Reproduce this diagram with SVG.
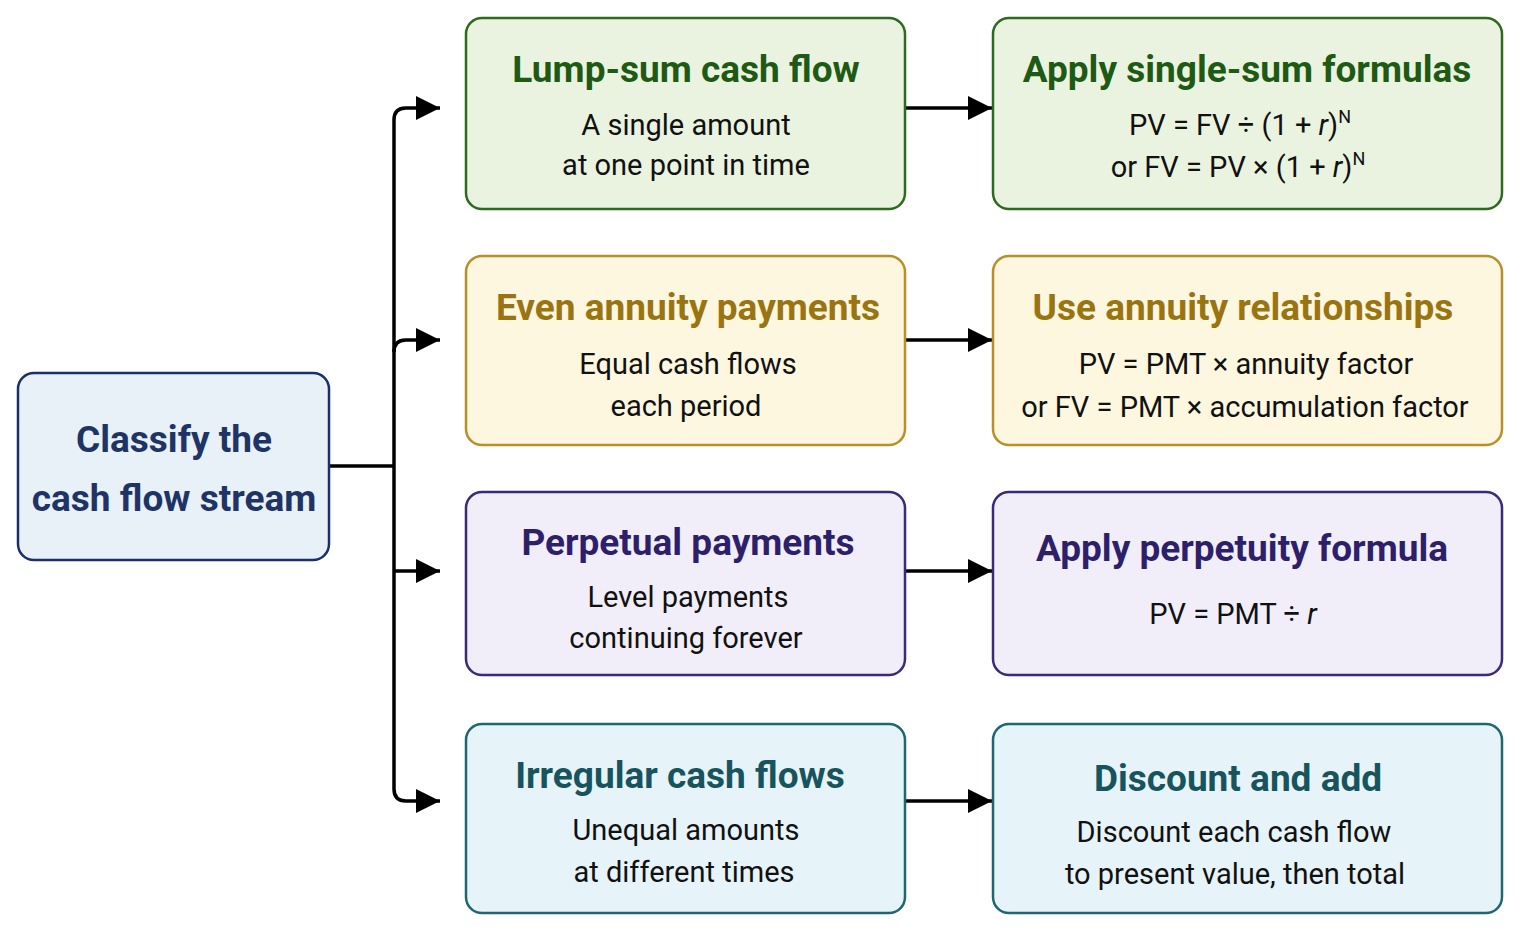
<svg xmlns="http://www.w3.org/2000/svg" width="1521" height="932" viewBox="0 0 1521 932">
<defs>
<marker id="ah" markerWidth="10" markerHeight="10" refX="9" refY="5" orient="auto" markerUnits="userSpaceOnUse" viewBox="0 0 10 10"><path d="M0,0 L10,5 L0,10 z" fill="#000"/></marker>
<marker id="a" viewBox="0 0 24 24" refX="24" refY="12" markerWidth="26" markerHeight="24" markerUnits="userSpaceOnUse" orient="auto"><path d="M0,0 L24,12 L0,24 z" fill="#000"/></marker>
</defs>
<style>
text{font-family:Roboto,"Liberation Sans",sans-serif;text-anchor:middle}
.t{font-size:37px;font-weight:bold}
.b{font-size:29px;fill:#111}
.c{fill:none;stroke:#000;stroke-width:3.5}
rect{stroke-width:2.5}
</style>
<rect width="1521" height="932" fill="#fff"/>
<g id="connectors">
<path class="c" d="M329,466 H394"/>
<path class="c" d="M394,120 Q394,108 406,108 H440" marker-end="url(#a)"/>
<path class="c" d="M394,352 Q394,340 406,340 H440" marker-end="url(#a)"/>
<path class="c" d="M394,571 H440" marker-end="url(#a)"/>
<path class="c" d="M394,789 Q394,801 406,801 H440" marker-end="url(#a)"/>
<path class="c" d="M394,120 V789"/>
<path class="c" d="M906,108 H992" marker-end="url(#a)"/>
<path class="c" d="M906,340 H992" marker-end="url(#a)"/>
<path class="c" d="M906,571 H992" marker-end="url(#a)"/>
<path class="c" d="M906,801 H992" marker-end="url(#a)"/>
</g>
<g id="classify">
<rect x="18" y="373" width="311" height="187" rx="16" fill="#e8f0f8" stroke="#1a2f6b"/>
<text x="174" y="452" class="t" fill="#1f3466" font-size="40">Classify the</text>
<text x="174" y="511" class="t" fill="#1f3466" font-size="40">cash flow stream</text>
</g>
<g id="lump">
<rect x="466" y="18" width="439" height="191" rx="16" fill="#eaf3e0" stroke="#2d6a1f"/>
<text x="686" y="82" class="t" fill="#1e5a14">Lump-sum cash flow</text>
<text x="686" y="135" class="b">A single amount</text>
<text x="686" y="175" class="b">at one point in time</text>
</g>
<g id="single">
<rect x="993" y="18" width="509" height="191" rx="16" fill="#eaf3e0" stroke="#2d6a1f"/>
<text x="1247" y="82" class="t" fill="#1e5a14">Apply single-sum formulas</text>
<text x="1240" y="135" class="b">PV = FV ÷ (1 + <tspan font-style="italic">r</tspan>)<tspan font-size="18" dy="-12">N</tspan></text>
<text x="1238" y="177" class="b">or FV = PV × (1 + <tspan font-style="italic">r</tspan>)<tspan font-size="18" dy="-12">N</tspan></text>
</g>
<g id="even">
<rect x="466" y="256" width="439" height="189" rx="16" fill="#fdf7e0" stroke="#b8902a"/>
<text x="688" y="320" class="t" fill="#9a7410">Even annuity payments</text>
<text x="688" y="374" class="b">Equal cash flows</text>
<text x="686" y="416" class="b">each period</text>
</g>
<g id="annuity">
<rect x="993" y="256" width="509" height="189" rx="16" fill="#fdf7e0" stroke="#b8902a"/>
<text x="1243" y="320" class="t" fill="#9a7410">Use annuity relationships</text>
<text x="1246" y="374" class="b">PV = PMT × annuity factor</text>
<text x="1245" y="417" class="b">or FV = PMT × accumulation factor</text>
</g>
<g id="perpetual">
<rect x="466" y="492" width="439" height="183" rx="16" fill="#f1eefa" stroke="#3b2a78"/>
<text x="688" y="555" class="t" fill="#2e1f6b">Perpetual payments</text>
<text x="688" y="607" class="b">Level payments</text>
<text x="686" y="648" class="b">continuing forever</text>
</g>
<g id="perpetuity">
<rect x="993" y="492" width="509" height="183" rx="16" fill="#f1eefa" stroke="#3b2a78"/>
<text x="1242" y="561" class="t" fill="#2e1f6b">Apply perpetuity formula</text>
<text x="1233" y="624" class="b">PV = PMT ÷ <tspan font-style="italic">r</tspan></text>
</g>
<g id="irregular">
<rect x="466" y="724" width="439" height="189" rx="16" fill="#e6f3f8" stroke="#1f6670"/>
<text x="680" y="788" class="t" fill="#17545e">Irregular cash flows</text>
<text x="686" y="840" class="b">Unequal amounts</text>
<text x="684" y="882" class="b">at different times</text>
</g>
<g id="discount">
<rect x="993" y="724" width="509" height="189" rx="16" fill="#e6f3f8" stroke="#1f6670"/>
<text x="1238" y="791" class="t" fill="#17545e">Discount and add</text>
<text x="1234" y="842" class="b">Discount each cash flow</text>
<text x="1235" y="884" class="b">to present value, then total</text>
</g>
</svg>
